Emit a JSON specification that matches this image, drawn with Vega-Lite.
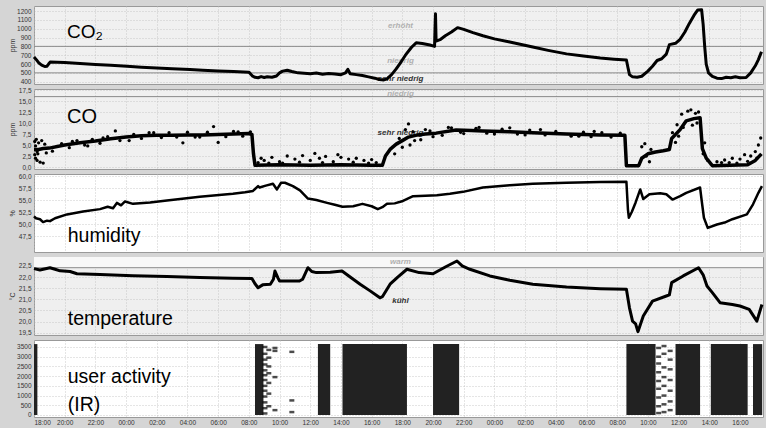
{
  "$schema": "https://vega.github.io/schema/vega-lite/v6.json",
  "background": "#d5d5d5",
  "padding": {"left": 8, "top": 5, "right": 2, "bottom": 2},
  "bounds": "flush",
  "spacing": 5,
  "config": {
    "font": "Liberation Sans",
    "locale": {"number": {"decimal": ",", "thousands": ".", "grouping": [3], "currency": ["", " €"]}},
    "axis": {"labelFont": "Liberation Sans", "labelFontSize": 6.5, "labelColor": "#333333", "gridColor": "#bcbcbc", "gridDash": [1, 2], "gridWidth": 0.8, "domain": false, "ticks": false, "titleFont": "Liberation Sans", "titleFontSize": 7, "titleFontWeight": "normal", "titleColor": "#333333"},
    "axisY": {"minExtent": 16, "maxExtent": 16, "labelPadding": 3, "titlePadding": 2.5},
    "axisX": {"labelPadding": 2},
    "view": {"stroke": "#999999"}
  },
  "datasets": {
    "co2": [
      {"h":0,"v":680},{"h":0.15,"v":650},{"h":0.3,"v":615},{"h":0.5,"v":588},{"h":0.7,"v":572},{"h":0.85,"v":576},{"h":0.95,"v":600},{"h":1.05,"v":622},{"h":1.5,"v":620},{"h":2,"v":616},{"h":3,"v":606},{"h":4,"v":596},{"h":5,"v":585},{"h":6.06,"v":574},{"h":7,"v":565},{"h":8,"v":556},{"h":9,"v":547},{"h":10.16,"v":537},{"h":11,"v":530},{"h":12,"v":522},{"h":13,"v":515},{"h":14,"v":508},{"h":14.1,"v":490},{"h":14.25,"v":462},{"h":14.4,"v":450},{"h":14.6,"v":445},{"h":14.8,"v":458},{"h":15,"v":448},{"h":15.2,"v":455},{"h":15.5,"v":450},{"h":15.8,"v":465},{"h":16,"v":500},{"h":16.2,"v":520},{"h":16.5,"v":530},{"h":16.8,"v":515},{"h":17.2,"v":500},{"h":17.6,"v":495},{"h":18,"v":490},{"h":18.4,"v":498},{"h":18.8,"v":485},{"h":19.2,"v":492},{"h":19.6,"v":488},{"h":20,"v":480},{"h":20.3,"v":500},{"h":20.45,"v":540},{"h":20.6,"v":490},{"h":21,"v":480},{"h":21.4,"v":470},{"h":21.8,"v":455},{"h":22.2,"v":440},{"h":22.5,"v":425},{"h":22.8,"v":420},{"h":23,"v":432},{"h":23.3,"v":480},{"h":23.6,"v":545},{"h":23.9,"v":620},{"h":24.2,"v":700},{"h":24.6,"v":790},{"h":24.9,"v":840},{"h":25.3,"v":832},{"h":25.8,"v":815},{"h":26.1,"v":800},{"h":26.13,"v":1000},{"h":26.16,"v":1170},{"h":26.2,"v":860},{"h":26.5,"v":880},{"h":26.8,"v":920},{"h":27.2,"v":962},{"h":27.6,"v":1012},{"h":28,"v":992},{"h":28.6,"v":955},{"h":29.25,"v":920},{"h":30,"v":885},{"h":31,"v":850},{"h":32.5,"v":792},{"h":33.5,"v":755},{"h":34.7,"v":715},{"h":35.8,"v":690},{"h":36.9,"v":668},{"h":37.8,"v":655},{"h":38.6,"v":646},{"h":38.7,"v":560},{"h":38.8,"v":480},{"h":39,"v":455},{"h":39.3,"v":450},{"h":39.6,"v":462},{"h":40,"v":520},{"h":40.3,"v":575},{"h":40.6,"v":640},{"h":40.9,"v":660},{"h":41.2,"v":712},{"h":41.3,"v":765},{"h":41.4,"v":820},{"h":41.8,"v":835},{"h":42.1,"v":880},{"h":42.4,"v":960},{"h":42.7,"v":1060},{"h":43,"v":1150},{"h":43.25,"v":1212},{"h":43.5,"v":1215},{"h":43.6,"v":1050},{"h":43.7,"v":800},{"h":43.8,"v":600},{"h":43.95,"v":500},{"h":44.2,"v":460},{"h":44.5,"v":440},{"h":44.8,"v":435},{"h":45.1,"v":450},{"h":45.4,"v":445},{"h":45.7,"v":455},{"h":46,"v":445},{"h":46.4,"v":448},{"h":46.7,"v":500},{"h":47,"v":580},{"h":47.2,"v":650},{"h":47.4,"v":740}
    ],
    "co2rules": [{"v": 800}, {"v": 500}],
    "co2zones": [
      {"h": 23.88, "v": 1030, "t": "erhöht", "c": "l"},
      {"h": 23.88, "v": 634, "t": "niedrig", "c": "l"},
      {"h": 23.88, "v": 427, "t": "sehr niedrig", "c": "d"}
    ],
    "co2label": [{"h": 2.15, "v": 891, "t": "CO₂"}],
    "co": [
      {"h":0,"v":4.0},{"h":0.3,"v":4.0},{"h":0.6,"v":4.2},{"h":1,"v":4.3},{"h":2,"v":5.0},{"h":3,"v":5.5},{"h":4,"v":5.9},{"h":5,"v":6.4},{"h":6,"v":6.8},{"h":7,"v":7.1},{"h":8,"v":7.2},{"h":9,"v":7.2},{"h":10,"v":7.3},{"h":11,"v":7.3},{"h":12,"v":7.4},{"h":13,"v":7.5},{"h":14,"v":7.6},{"h":14.2,"v":7.4},{"h":14.3,"v":3.0},{"h":14.4,"v":0.4},{"h":16,"v":0.5},{"h":18,"v":0.4},{"h":20,"v":0.5},{"h":22,"v":0.4},{"h":22.7,"v":0.4},{"h":22.9,"v":2.5},{"h":23.2,"v":4.0},{"h":23.6,"v":5.2},{"h":24,"v":6.0},{"h":24.4,"v":6.8},{"h":25,"v":7.3},{"h":25.5,"v":7.5},{"h":26.2,"v":7.7},{"h":27.5,"v":8.4},{"h":28.5,"v":8.3},{"h":29.25,"v":8.2},{"h":31,"v":8.0},{"h":32.5,"v":7.8},{"h":34.7,"v":7.5},{"h":36.9,"v":7.3},{"h":38.5,"v":7.2},{"h":38.6,"v":0.3},{"h":39.4,"v":0.3},{"h":39.6,"v":2.0},{"h":40,"v":3.0},{"h":40.5,"v":3.4},{"h":41,"v":3.7},{"h":41.4,"v":4.0},{"h":41.55,"v":6.5},{"h":42.1,"v":8.5},{"h":42.5,"v":10.5},{"h":43,"v":11.0},{"h":43.4,"v":11.2},{"h":43.55,"v":4.2},{"h":43.8,"v":2.0},{"h":44.2,"v":0.3},{"h":46.5,"v":0.5},{"h":47,"v":1.5},{"h":47.4,"v":3.0}
    ],
    "codots": [
      {"h":0.05,"v":5.8},{"h":0.1,"v":2.0},{"h":0.15,"v":6.3},{"h":0.2,"v":1.5},{"h":0.25,"v":3.0},{"h":0.1,"v":4.8},{"h":0.05,"v":2.8},{"h":0.3,"v":5.5},{"h":0.2,"v":3.5},{"h":0.4,"v":1.1},{"h":0.5,"v":6.0},{"h":0.6,"v":0.9},{"h":0.7,"v":5.2},{"h":0.8,"v":3.2},
      {"h":1.5,"v":4.7},{"h":2.5,"v":5.8},{"h":3.5,"v":4.8},{"h":4.5,"v":6.6},{"h":5.3,"v":8.2},{"h":6.2,"v":6.0},{"h":7.5,"v":7.8},{"h":9.7,"v":5.5},{"h":10.5,"v":6.8},{"h":11.7,"v":9.2},{"h":12.0,"v":5.6},{"h":13.3,"v":8.0},
      {"h":1.2,"v":3.6},{"h":1.8,"v":5.3},{"h":2.3,"v":4.4},{"h":2.8,"v":6.0},{"h":3.3,"v":5.0},{"h":3.8,"v":6.3},{"h":4.3,"v":5.4},{"h":4.8,"v":6.9},{"h":5.6,"v":6.0},{"h":6.5,"v":7.4},{"h":7.0,"v":6.5},{"h":7.8,"v":7.8},{"h":8.3,"v":6.7},{"h":8.8,"v":7.8},{"h":9.3,"v":6.8},{"h":10.0,"v":7.9},{"h":10.8,"v":6.8},{"h":11.3,"v":7.9},{"h":12.5,"v":6.9},{"h":13.0,"v":8.1},{"h":13.6,"v":7.0},{"h":14.1,"v":8.0},
      {"h":14.6,"v":1.0},{"h":14.8,"v":2.0},{"h":15,"v":1.5},{"h":15.3,"v":0.9},{"h":15.5,"v":2.2},{"h":16,"v":1.2},{"h":16.2,"v":0.9},{"h":16.5,"v":2.5},{"h":17,"v":1.8},{"h":17.3,"v":1.1},{"h":17.5,"v":2.6},{"h":18,"v":1.5},{"h":18.3,"v":3.1},{"h":18.6,"v":2.0},{"h":18.8,"v":1.0},{"h":19,"v":2.4},{"h":19.5,"v":1.2},{"h":19.8,"v":2.8},{"h":20,"v":2.2},{"h":20.5,"v":1.8},{"h":20.8,"v":1.1},{"h":21,"v":2.0},{"h":21.5,"v":1.5},{"h":21.8,"v":0.9},{"h":22,"v":1.7},{"h":22.3,"v":1.0},
      {"h":23.5,"v":3.0},{"h":23.8,"v":6.5},{"h":24,"v":4.5},{"h":24.2,"v":8.5},{"h":24.4,"v":9.8},{"h":24.5,"v":5.0},{"h":24.7,"v":8.0},{"h":24.8,"v":6.0},{"h":25.2,"v":6.2},{"h":25.5,"v":8.5},{"h":26,"v":6.9},{"h":27,"v":9.0},{"h":28,"v":7.6},{"h":29,"v":9.0},{"h":30,"v":7.5},{"h":31,"v":8.9},{"h":32,"v":7.3},{"h":33,"v":8.5},{"h":35.5,"v":7.0},{"h":36.5,"v":8.1},
      {"h":25.8,"v":8.2},{"h":26.6,"v":7.2},{"h":27.2,"v":8.9},{"h":27.8,"v":7.9},{"h":28.8,"v":8.8},{"h":29.5,"v":7.7},{"h":30.5,"v":8.6},{"h":31.5,"v":7.5},{"h":32.3,"v":8.4},{"h":33.3,"v":7.3},{"h":34.0,"v":8.1},{"h":35.0,"v":7.0},{"h":35.8,"v":7.9},{"h":36.3,"v":6.9},{"h":37.0,"v":7.8},{"h":37.6,"v":6.8},{"h":38.2,"v":7.7},
      {"h":39.6,"v":4.6},{"h":39.8,"v":5.3},{"h":39.9,"v":2.5},{"h":40.1,"v":1.2},{"h":40.2,"v":4.0},{"h":41.6,"v":7.8},{"h":41.8,"v":5.6},{"h":41.9,"v":9.6},{"h":42,"v":7.0},{"h":42.2,"v":12.0},{"h":42.3,"v":9.0},{"h":42.6,"v":12.7},{"h":42.8,"v":13.0},{"h":42.9,"v":9.5},{"h":43.1,"v":12.2},{"h":43.2,"v":10.0},{"h":43.3,"v":12.5},{"h":43.6,"v":3.0},{"h":43.7,"v":5.5},{"h":43.9,"v":1.5},{"h":44.5,"v":1.2},{"h":44.8,"v":1.0},{"h":45,"v":1.6},{"h":45.3,"v":1.0},{"h":45.5,"v":2.0},{"h":45.8,"v":0.9},{"h":46,"v":1.8},{"h":46.3,"v":2.8},{"h":46.5,"v":1.3},{"h":46.7,"v":2.5},{"h":47,"v":3.5},{"h":47.1,"v":2.0},{"h":47.2,"v":5.0},{"h":47.35,"v":6.6}
    ],
    "corules": [{"v": 16}],
    "cozones": [
      {"h": 23.88, "v": 16.66, "t": "niedrig", "c": "l"},
      {"h": 23.88, "v": 7.8, "t": "sehr niedrig", "c": "d"}
    ],
    "colabel": [{"h": 2.15, "v": 10.1, "t": "CO"}],
    "hum": [
      {"h":0,"v":51.6},{"h":0.13,"v":51.2},{"h":0.39,"v":51.0},{"h":0.59,"v":50.4},{"h":0.85,"v":50.7},{"h":1.04,"v":50.6},{"h":1.37,"v":51.2},{"h":2.15,"v":52.0},{"h":3.2,"v":52.6},{"h":4.3,"v":53.1},{"h":4.8,"v":53.6},{"h":5.15,"v":53.3},{"h":5.4,"v":54.4},{"h":5.67,"v":53.9},{"h":5.93,"v":54.7},{"h":6.45,"v":54.2},{"h":7.56,"v":54.5},{"h":8.66,"v":54.9},{"h":10.8,"v":55.7},{"h":12.96,"v":56.3},{"h":13.75,"v":56.6},{"h":14.27,"v":56.9},{"h":14.6,"v":57.9},{"h":14.7,"v":57.6},{"h":15.1,"v":58.0},{"h":15.57,"v":58.4},{"h":15.83,"v":57.2},{"h":16.1,"v":58.6},{"h":16.35,"v":58.6},{"h":16.87,"v":57.9},{"h":17.33,"v":57.0},{"h":17.85,"v":55.3},{"h":18.4,"v":55.0},{"h":19.1,"v":54.4},{"h":19.6,"v":54.0},{"h":20.1,"v":53.6},{"h":20.8,"v":53.7},{"h":21.4,"v":54.2},{"h":22.0,"v":53.7},{"h":22.4,"v":53.1},{"h":22.7,"v":53.5},{"h":23.0,"v":54.2},{"h":23.5,"v":54.3},{"h":24.04,"v":54.8},{"h":24.7,"v":55.8},{"h":25.5,"v":55.9},{"h":26.25,"v":56.0},{"h":27.1,"v":56.3},{"h":27.95,"v":56.7},{"h":29.25,"v":57.6},{"h":31.0,"v":58.1},{"h":32.5,"v":58.4},{"h":34.7,"v":58.6},{"h":36.9,"v":58.75},{"h":38.6,"v":58.8},{"h":38.7,"v":53.0},{"h":38.76,"v":51.3},{"h":38.95,"v":52.5},{"h":39.2,"v":54.5},{"h":39.5,"v":57.2},{"h":39.7,"v":55.2},{"h":40.1,"v":56.2},{"h":40.8,"v":56.4},{"h":41.2,"v":56.2},{"h":41.6,"v":55.1},{"h":42.1,"v":55.8},{"h":42.5,"v":56.5},{"h":43.4,"v":57.6},{"h":43.5,"v":55.0},{"h":43.65,"v":51.3},{"h":43.9,"v":49.2},{"h":44.5,"v":49.9},{"h":45.0,"v":50.3},{"h":45.5,"v":51.0},{"h":46.45,"v":52.0},{"h":46.85,"v":54.1},{"h":47.2,"v":56.5},{"h":47.43,"v":57.9}
    ],
    "humlabel": [{"h": 2.2, "v": 46.25, "t": "humidity"}],
    "temp": [
      {"h":0,"v":22.38},{"h":0.39,"v":22.32},{"h":1.04,"v":22.42},{"h":1.37,"v":22.35},{"h":1.7,"v":22.28},{"h":2.35,"v":22.25},{"h":2.8,"v":22.15},{"h":4.3,"v":22.12},{"h":6.45,"v":22.06},{"h":8.66,"v":22.02},{"h":10.8,"v":21.98},{"h":12.96,"v":21.95},{"h":14.2,"v":21.94},{"h":14.4,"v":21.7},{"h":14.6,"v":21.52},{"h":14.9,"v":21.65},{"h":15.4,"v":21.68},{"h":15.6,"v":21.9},{"h":15.7,"v":22.27},{"h":15.9,"v":21.95},{"h":16.0,"v":21.82},{"h":17.3,"v":21.82},{"h":17.5,"v":21.9},{"h":17.85,"v":22.42},{"h":18.1,"v":22.25},{"h":18.4,"v":22.2},{"h":19.3,"v":22.22},{"h":20.07,"v":22.27},{"h":20.6,"v":22.0},{"h":21.25,"v":21.68},{"h":21.9,"v":21.38},{"h":22.54,"v":21.07},{"h":22.7,"v":21.12},{"h":23.2,"v":21.68},{"h":23.7,"v":22.0},{"h":24.3,"v":22.35},{"h":25.1,"v":22.2},{"h":26.0,"v":22.15},{"h":26.8,"v":22.45},{"h":27.56,"v":22.72},{"h":27.9,"v":22.5},{"h":28.4,"v":22.35},{"h":29.7,"v":22.05},{"h":31.0,"v":21.86},{"h":32.5,"v":21.68},{"h":34.7,"v":21.55},{"h":36.9,"v":21.48},{"h":38.6,"v":21.45},{"h":38.8,"v":20.62},{"h":39.0,"v":20.02},{"h":39.2,"v":19.9},{"h":39.35,"v":19.55},{"h":39.7,"v":20.25},{"h":40.3,"v":20.92},{"h":41.2,"v":21.15},{"h":41.4,"v":21.2},{"h":41.55,"v":21.75},{"h":42.3,"v":22.05},{"h":43.3,"v":22.42},{"h":43.6,"v":22.1},{"h":43.85,"v":21.6},{"h":44.2,"v":21.3},{"h":44.7,"v":20.85},{"h":45.5,"v":20.77},{"h":46.0,"v":20.7},{"h":46.6,"v":20.55},{"h":47.1,"v":20.02},{"h":47.43,"v":20.77}
    ],
    "tempband": [{"v": 22.42, "v2": 22.9}],
    "temprules": [{"v": 22.42}],
    "tempzones": [
      {"h": 23.88, "v": 22.68, "t": "warm", "c": "l"},
      {"h": 23.88, "v": 20.93, "t": "kühl", "c": "d"}
    ],
    "templabel": [{"h": 2.2, "v": 19.84, "t": "temperature"}],
    "irband": [
      {"h":0,"h2":0.22,"v":0,"v2":3650},{"h":14.4,"h2":14.95,"v":0,"v2":3650},{"h":18.5,"h2":19.3,"v":0,"v2":3650},{"h":20.1,"h2":24.3,"v":0,"v2":3650},{"h":26.0,"h2":27.7,"v":0,"v2":3650},{"h":38.6,"h2":40.5,"v":0,"v2":3650},{"h":41.8,"h2":43.4,"v":0,"v2":3650},{"h":44.1,"h2":46.5,"v":0,"v2":3650},{"h":46.85,"h2":47.45,"v":0,"v2":3650}
    ],
    "irdash": [
      {"h":15.05,"v":3500},{"h":15.05,"v":3150},{"h":15.05,"v":2850},{"h":15.05,"v":2600},{"h":15.05,"v":2300},{"h":15.05,"v":2050},{"h":15.05,"v":1800},{"h":15.05,"v":1500},{"h":15.05,"v":1250},{"h":15.05,"v":950},{"h":15.05,"v":650},{"h":15.05,"v":350},{"h":15.05,"v":80},
      {"h":15.3,"v":3350},{"h":15.3,"v":2950},{"h":15.3,"v":2500},{"h":15.3,"v":2150},{"h":15.3,"v":1650},{"h":15.3,"v":1100},{"h":15.3,"v":450},
      {"h":15.7,"v":3450},{"h":15.7,"v":3300},{"h":15.7,"v":1950},{"h":15.7,"v":250},
      {"h":16.8,"v":3250},{"h":16.8,"v":750},{"h":16.8,"v":150},
      {"h":40.7,"v":3450},{"h":40.7,"v":3000},{"h":40.7,"v":2650},{"h":40.7,"v":2200},{"h":40.7,"v":1750},{"h":40.7,"v":1350},{"h":40.7,"v":900},{"h":40.7,"v":450},{"h":40.7,"v":100},
      {"h":41.05,"v":3550},{"h":41.05,"v":3150},{"h":41.05,"v":2450},{"h":41.05,"v":1950},{"h":41.05,"v":1500},{"h":41.05,"v":1000},{"h":41.05,"v":550},{"h":41.05,"v":150},
      {"h":41.45,"v":3300},{"h":41.45,"v":2850},{"h":41.45,"v":2350},{"h":41.45,"v":1800},{"h":41.45,"v":1250},{"h":41.45,"v":700},{"h":41.45,"v":250}
    ],
    "irlabel": [{"h": 2.2, "v": 1650, "t": "user activity"}, {"h": 2.2, "v": 210, "t": "(IR)"}]
  },
  "vconcat": [
    {
      "width": 729, "height": 78,
      "view": {"fill": "#f0f0f0", "stroke": "#999999"},
      "encoding": {"y": {"field": "v", "type": "quantitative", "scale": {"domain": [374, 1257], "nice": false, "zero": false}, "axis": {"values": [400, 500, 600, 700, 800, 900, 1000, 1100, 1200], "format": "d", "title": "ppm", "grid": true}}},
      "layer": [
        {"data": {"name": "co2rules"}, "mark": {"type": "rule", "color": "#8a8a8a", "strokeWidth": 1}, "encoding": {}},
        {"data": {"name": "co2zones"}, "mark": {"type": "text", "fontSize": 8, "fontStyle": "italic", "fontWeight": "bold", "align": "center", "baseline": "middle"},
         "encoding": {"x": {"field": "h", "type": "quantitative", "scale": {"domain": [0, 47.5], "nice": false, "zero": false}, "axis": {"values": [0,2,4,6,8,10,12,14,16,18,20,22,24,26,28,30,32,34,36,38,40,42,44,46], "labels": false, "title": null, "grid": true}}, "text": {"field": "t"}, "color": {"field": "c", "type": "nominal", "scale": {"domain": ["l", "d"], "range": ["#b0b0b0", "#333333"]}, "legend": null}}},
        {"data": {"name": "co2label"}, "mark": {"type": "text", "fontSize": 19, "align": "left", "baseline": "alphabetic", "color": "black"},
         "encoding": {"x": {"field": "h", "type": "quantitative", "scale": {"domain": [0, 47.5], "nice": false, "zero": false}, "axis": {"values": [0,2,4,6,8,10,12,14,16,18,20,22,24,26,28,30,32,34,36,38,40,42,44,46], "labels": false, "title": null, "grid": true}}, "text": {"field": "t"}}},
        {"data": {"name": "co2"}, "mark": {"type": "line", "color": "black", "strokeWidth": 3, "strokeJoin": "round"},
         "encoding": {"x": {"field": "h", "type": "quantitative", "scale": {"domain": [0, 47.5], "nice": false, "zero": false}, "axis": {"values": [0,2,4,6,8,10,12,14,16,18,20,22,24,26,28,30,32,34,36,38,40,42,44,46], "labels": false, "title": null, "grid": true}}}}
      ]
    },
    {
      "width": 729, "height": 80,
      "view": {"fill": "#f0f0f0", "stroke": "#999999"},
      "encoding": {"y": {"field": "v", "type": "quantitative", "scale": {"domain": [-0.45, 17.73], "nice": false, "zero": false}, "axis": {"values": [0, 2.5, 5, 7.5, 10, 12.5, 15, 17.5], "format": ".1f", "title": "ppm", "grid": true}}},
      "layer": [
        {"data": {"name": "corules"}, "mark": {"type": "rule", "color": "#8a8a8a", "strokeWidth": 1}, "encoding": {}},
        {"data": {"name": "cozones"}, "mark": {"type": "text", "fontSize": 8, "fontStyle": "italic", "fontWeight": "bold", "align": "center", "baseline": "middle"},
         "encoding": {"x": {"field": "h", "type": "quantitative", "scale": {"domain": [0, 47.5], "nice": false, "zero": false}, "axis": {"values": [0,2,4,6,8,10,12,14,16,18,20,22,24,26,28,30,32,34,36,38,40,42,44,46], "labels": false, "title": null, "grid": true}}, "text": {"field": "t"}, "color": {"field": "c", "type": "nominal", "scale": {"domain": ["l", "d"], "range": ["#b0b0b0", "#333333"]}, "legend": null}}},
        {"data": {"name": "colabel"}, "mark": {"type": "text", "fontSize": 20, "align": "left", "baseline": "alphabetic", "color": "black"},
         "encoding": {"x": {"field": "h", "type": "quantitative", "scale": {"domain": [0, 47.5], "nice": false, "zero": false}, "axis": {"values": [0,2,4,6,8,10,12,14,16,18,20,22,24,26,28,30,32,34,36,38,40,42,44,46], "labels": false, "title": null, "grid": true}}, "text": {"field": "t"}}},
        {"data": {"name": "co"}, "mark": {"type": "line", "color": "black", "strokeWidth": 3.5, "strokeJoin": "round"},
         "encoding": {"x": {"field": "h", "type": "quantitative", "scale": {"domain": [0, 47.5], "nice": false, "zero": false}, "axis": {"values": [0,2,4,6,8,10,12,14,16,18,20,22,24,26,28,30,32,34,36,38,40,42,44,46], "labels": false, "title": null, "grid": true}}}},
        {"data": {"name": "codots"}, "mark": {"type": "point", "filled": true, "color": "black", "size": 11, "opacity": 1},
         "encoding": {"x": {"field": "h", "type": "quantitative", "scale": {"domain": [0, 47.5], "nice": false, "zero": false}, "axis": {"values": [0,2,4,6,8,10,12,14,16,18,20,22,24,26,28,30,32,34,36,38,40,42,44,46], "labels": false, "title": null, "grid": true}}}}
      ]
    },
    {
      "width": 729, "height": 78,
      "view": {"fill": "#ffffff", "stroke": "#999999"},
      "encoding": {"y": {"field": "v", "type": "quantitative", "scale": {"domain": [44.17, 60.42], "nice": false, "zero": false}, "axis": {"values": [47.5, 50, 52.5, 55, 57.5, 60], "format": ".1f", "title": "%", "grid": true}}},
      "layer": [
        {"data": {"name": "humlabel"}, "mark": {"type": "text", "fontSize": 19.5, "align": "left", "baseline": "alphabetic", "color": "black"},
         "encoding": {"x": {"field": "h", "type": "quantitative", "scale": {"domain": [0, 47.5], "nice": false, "zero": false}, "axis": {"values": [0,2,4,6,8,10,12,14,16,18,20,22,24,26,28,30,32,34,36,38,40,42,44,46], "labels": false, "title": null, "grid": true}}, "text": {"field": "t"}}},
        {"data": {"name": "hum"}, "mark": {"type": "line", "color": "black", "strokeWidth": 2.5, "strokeJoin": "round"},
         "encoding": {"x": {"field": "h", "type": "quantitative", "scale": {"domain": [0, 47.5], "nice": false, "zero": false}, "axis": {"values": [0,2,4,6,8,10,12,14,16,18,20,22,24,26,28,30,32,34,36,38,40,42,44,46], "labels": false, "title": null, "grid": true}}}}
      ]
    },
    {
      "width": 729, "height": 78,
      "view": {"fill": "#efefef", "stroke": "#999999"},
      "encoding": {"y": {"field": "v", "type": "quantitative", "scale": {"domain": [19.4, 22.9], "nice": false, "zero": false}, "axis": {"values": [19.5, 20, 20.5, 21, 21.5, 22, 22.5], "format": ".1f", "title": "°C", "grid": true}}},
      "layer": [
        {"data": {"name": "tempband"}, "mark": {"type": "rect", "color": "#f8f8f8"}, "encoding": {"y2": {"field": "v2"}}},
        {"data": {"name": "temprules"}, "mark": {"type": "rule", "color": "#8a8a8a", "strokeWidth": 1}, "encoding": {}},
        {"data": {"name": "tempzones"}, "mark": {"type": "text", "fontSize": 8, "fontStyle": "italic", "fontWeight": "bold", "align": "center", "baseline": "middle"},
         "encoding": {"x": {"field": "h", "type": "quantitative", "scale": {"domain": [0, 47.5], "nice": false, "zero": false}, "axis": {"values": [0,2,4,6,8,10,12,14,16,18,20,22,24,26,28,30,32,34,36,38,40,42,44,46], "labels": false, "title": null, "grid": true}}, "text": {"field": "t"}, "color": {"field": "c", "type": "nominal", "scale": {"domain": ["l", "d"], "range": ["#b0b0b0", "#333333"]}, "legend": null}}},
        {"data": {"name": "templabel"}, "mark": {"type": "text", "fontSize": 19.5, "align": "left", "baseline": "alphabetic", "color": "black"},
         "encoding": {"x": {"field": "h", "type": "quantitative", "scale": {"domain": [0, 47.5], "nice": false, "zero": false}, "axis": {"values": [0,2,4,6,8,10,12,14,16,18,20,22,24,26,28,30,32,34,36,38,40,42,44,46], "labels": false, "title": null, "grid": true}}, "text": {"field": "t"}}},
        {"data": {"name": "temp"}, "mark": {"type": "line", "color": "black", "strokeWidth": 3, "strokeJoin": "round"},
         "encoding": {"x": {"field": "h", "type": "quantitative", "scale": {"domain": [0, 47.5], "nice": false, "zero": false}, "axis": {"values": [0,2,4,6,8,10,12,14,16,18,20,22,24,26,28,30,32,34,36,38,40,42,44,46], "labels": false, "title": null, "grid": true}}}}
      ]
    },
    {
      "width": 729, "height": 77,
      "view": {"fill": "#ffffff", "stroke": "#999999"},
      "encoding": {"y": {"field": "v", "type": "quantitative", "scale": {"domain": [-103, 3860], "nice": false, "zero": false}, "axis": {"values": [0, 500, 1000, 1500, 2000, 2500, 3000, 3500], "format": "d", "title": null, "grid": true}}},
      "layer": [
        {"data": {"name": "irband"}, "mark": {"type": "rect", "color": "#222222"},
         "encoding": {"x": {"field": "h", "type": "quantitative", "scale": {"domain": [0, 47.5], "nice": false, "zero": false}, "axis": {"values": [0,2,4,6,8,10,12,14,16,18,20,22,24,26,28,30,32,34,36,38,40,42,44,46], "labelExpr": "(((datum.value + 18) % 24) < 10 ? '0' : '') + ((datum.value + 18) % 24) + ':00'", "title": null, "grid": true}}, "x2": {"field": "h2"}, "y2": {"field": "v2"}}},
        {"data": {"name": "irdash"}, "mark": {"type": "tick", "orient": "horizontal", "color": "black", "size": 5, "thickness": 2.5},
         "encoding": {"x": {"field": "h", "type": "quantitative", "scale": {"domain": [0, 47.5], "nice": false, "zero": false}, "axis": {"values": [0,2,4,6,8,10,12,14,16,18,20,22,24,26,28,30,32,34,36,38,40,42,44,46], "labelExpr": "(((datum.value + 18) % 24) < 10 ? '0' : '') + ((datum.value + 18) % 24) + ':00'", "title": null, "grid": true}}}},
        {"data": {"name": "irlabel"}, "mark": {"type": "text", "fontSize": 19.5, "align": "left", "baseline": "alphabetic", "color": "black"},
         "encoding": {"x": {"field": "h", "type": "quantitative", "scale": {"domain": [0, 47.5], "nice": false, "zero": false}, "axis": {"values": [0,2,4,6,8,10,12,14,16,18,20,22,24,26,28,30,32,34,36,38,40,42,44,46], "labelExpr": "(((datum.value + 18) % 24) < 10 ? '0' : '') + ((datum.value + 18) % 24) + ':00'", "title": null, "grid": true}}, "text": {"field": "t"}}}
      ]
    }
  ]
}
